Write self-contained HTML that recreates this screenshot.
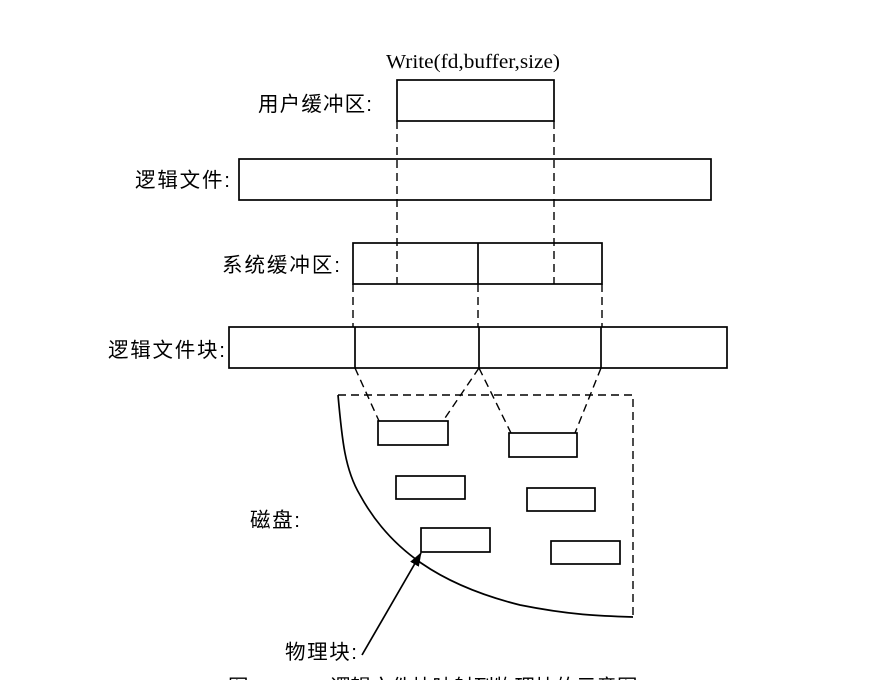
<!DOCTYPE html>
<html><head><meta charset="utf-8"><style>
html,body{margin:0;padding:0;background:#fff;width:894px;height:680px;overflow:hidden}
</style></head><body>
<svg width="894" height="680" viewBox="0 0 894 680" xmlns="http://www.w3.org/2000/svg">
<defs><marker id="ah" markerWidth="14" markerHeight="14" refX="13" refY="7" orient="auto" markerUnits="userSpaceOnUse"><path d="M0,2 L14,7 L0,12 z" fill="#000"/></marker></defs>
<g font-family="Liberation Sans, Noto Sans CJK SC, sans-serif" font-size="20.5" fill="#000">
<text x="473" y="68" text-anchor="middle" font-family="Liberation Serif, serif" font-size="20" textLength="174" lengthAdjust="spacingAndGlyphs">Write(fd,buffer,size)</text>
<text x="258" y="111" textLength="114" lengthAdjust="spacing">用户缓冲区:</text>
<text x="135" y="187" textLength="95" lengthAdjust="spacing">逻辑文件:</text>
<text x="222" y="272" textLength="118" lengthAdjust="spacing">系统缓冲区:</text>
<text x="108" y="357" textLength="117" lengthAdjust="spacing">逻辑文件块:</text>
<text x="250" y="527" textLength="50" lengthAdjust="spacing">磁盘:</text>
<text x="285" y="659" textLength="72" lengthAdjust="spacing">物理块:</text>
<text x="228" y="694">图</text>
<text x="330" y="694">逻辑文件块映射到物理块的示意图</text>
</g>
<g fill="none" stroke="#000" stroke-width="1.7">
<rect x="397" y="80" width="157" height="41"/>
<rect x="239" y="159" width="472" height="41"/>
<rect x="353" y="243" width="249" height="41"/>
<line x1="478" y1="243" x2="478" y2="284"/>
<rect x="229" y="327" width="498" height="41"/>
<line x1="355" y1="327" x2="355" y2="368"/>
<line x1="479" y1="327" x2="479" y2="368"/>
<line x1="601" y1="327" x2="601" y2="368"/>
<rect x="378" y="421" width="70" height="24"/>
<rect x="509" y="433" width="68" height="24"/>
<rect x="396" y="476" width="69" height="23"/>
<rect x="527" y="488" width="68" height="23"/>
<rect x="421" y="528" width="69" height="24"/>
<rect x="551" y="541" width="69" height="23"/>
<path d="M338,395 C342,440 345,470 360,495 C390,550 440,585 520,605 C570,615 600,616 633,617"/>
</g>
<g fill="none" stroke="#000" stroke-width="1.4" stroke-dasharray="8,5">
<line x1="397" y1="121" x2="397" y2="284"/>
<line x1="554" y1="121" x2="554" y2="284"/>
<line x1="353" y1="284" x2="353" y2="327"/>
<line x1="478" y1="284" x2="478" y2="327"/>
<line x1="602" y1="284" x2="602" y2="327"/>
<path d="M338,395 L633,395 L633,617"/>
<line x1="355" y1="368" x2="379" y2="421"/>
<line x1="479" y1="368" x2="443" y2="421"/>
<line x1="479" y1="368" x2="511" y2="433"/>
<line x1="601" y1="368" x2="575" y2="433"/>
</g>
<line x1="362" y1="655" x2="421" y2="553" stroke="#000" stroke-width="1.7" marker-end="url(#ah)"/>
</svg>
</body></html>
